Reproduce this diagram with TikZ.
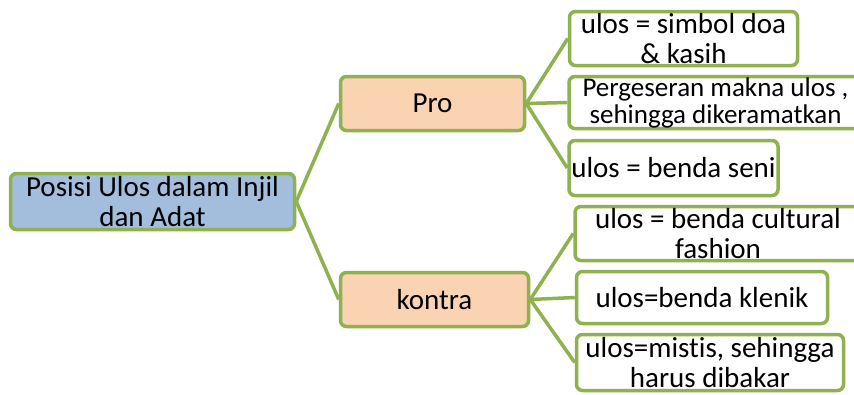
\documentclass[tikz,border=0pt]{standalone}
\usepackage{fontspec}
\setmainfont[Ligatures=NoCommon]{Carlito}
\usetikzlibrary{backgrounds}
\definecolor{leafgreen}{RGB}{143,177,80}
\definecolor{rootblue}{RGB}{163,189,221}
\definecolor{peach}{RGB}{250,211,178}
\tikzset{
  box/.style={draw=leafgreen, line width=3.5pt, rounded corners=6pt, inner sep=0pt,
    align=center, font=\fontsize{29}{30}\selectfont},
  rootbox/.style={box, fill=rootblue},
  sidebox/.style={box, fill=peach},
  leafbox/.style={box, fill=white},
  link/.style={leafgreen, line width=3.5pt}
}
\begin{document}
\begin{tikzpicture}[x=1pt,y=-1pt]
  \useasboundingbox (0,0) rectangle (854,394);
  \node[rootbox, minimum width=284pt, minimum height=56pt] (root) at (152.5,201.5) {Posisi Ulos dalam Injil\\dan Adat};
  \node[sidebox, minimum width=184pt, minimum height=54pt] (pro) at (432.5,103.5) {Pro};
  \node[sidebox, minimum width=188pt, minimum height=54pt] (kontra) at (434.5,299.5) {kontra};
  \node[leafbox, minimum width=228pt, minimum height=54pt] (doa) at (683.5,38.5) {ulos = simbol doa\\\& kasih};
  \node[leafbox, minimum width=293pt, minimum height=52pt, font=\fontsize{27}{27}\selectfont] (geser) at (715.5,102.5) {Pergeseran makna ulos ,\\sehingga dikeramatkan};
  \node[leafbox, minimum width=209pt, minimum height=55pt] (seni) at (673.5,168) {ulos = benda seni};
  \node[leafbox, minimum width=286pt, minimum height=54pt] (kultur) at (718,233.5) {ulos = benda cultural\\fashion};
  \node[leafbox, minimum width=251pt, minimum height=52pt] (klenik) at (702,297.5) {ulos=benda klenik};
  \node[leafbox, minimum width=267pt, minimum height=56pt] (mistis) at (710,362.5) {ulos=mistis, sehingga\\harus dibakar};
  \begin{scope}[on background layer]
    \draw[link] (root.east) -- (pro.west);
    \draw[link] (root.east) -- (kontra.west);
    \draw[link] (pro.east) -- (doa.west);
    \draw[link] (pro.east) -- (geser.west);
    \draw[link] (pro.east) -- (seni.west);
    \draw[link] (kontra.east) -- (kultur.west);
    \draw[link] (kontra.east) -- (klenik.west);
    \draw[link] (kontra.east) -- (mistis.west);
  \end{scope}
\end{tikzpicture}
\end{document}
